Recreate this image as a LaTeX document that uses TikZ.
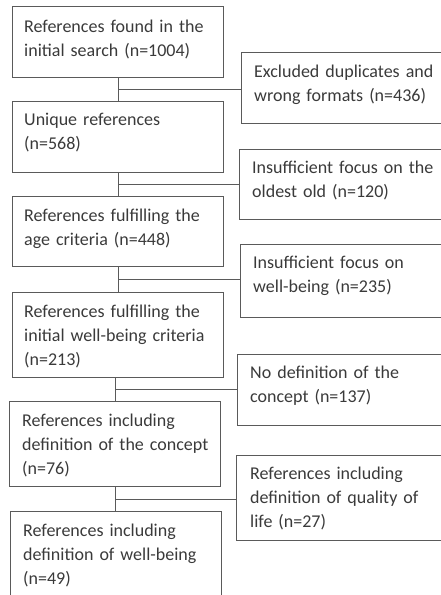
\documentclass[tikz,border=0pt]{standalone}
\usepackage{fontspec}
\setmainfont{Carlito}
\usetikzlibrary{calc}
\definecolor{bordergray}{HTML}{5A5A5A}
\definecolor{textgray}{HTML}{3A3A3A}
\begin{document}
\begin{tikzpicture}[x=1pt,y=-1pt,
  box/.style={draw=bordergray, line width=1.3pt, inner sep=0pt, anchor=north west},
  lbl/.style={anchor=base west, inner sep=0pt, text width=200pt, align=left,
    font=\fontsize{18}{24}\selectfont, text=textgray},
  link/.style={draw=bordergray, line width=1.3pt}]
\useasboundingbox (0,0) rectangle (441,595);
\clip (0,0) rectangle (441,595);
% left column
\node[box, minimum width=211pt, minimum height=71pt] (a) at (12,6) {};
\node[box, minimum width=211pt, minimum height=71pt] (b) at (12,101) {};
\node[box, minimum width=211pt, minimum height=70pt] (c) at (12,196) {};
\node[box, minimum width=211pt, minimum height=85pt] (d) at (12,292) {};
\node[box, minimum width=211pt, minimum height=85pt] (e) at (9,401) {};
\node[box, minimum width=211pt, minimum height=110pt] (f) at (10,511) {};
% right column
\node[box, minimum width=230pt, minimum height=71pt] (r1) at (241,52) {};
\node[box, minimum width=230pt, minimum height=70pt] (r2) at (239,149) {};
\node[box, minimum width=230pt, minimum height=73pt] (r3) at (240,244) {};
\node[box, minimum width=230pt, minimum height=71pt] (r4) at (237,354) {};
\node[box, minimum width=230pt, minimum height=85pt] (r5) at (236,455) {};
% texts
\node[lbl] (ta) at ([shift={(12,26)}]a.north west) {References found in the\\initial search (n=1004)};
\node[lbl] (tb) at ([shift={(12,24)}]b.north west) {Unique references\\(n=568)};
\node[lbl] (tc) at ([shift={(12,25)}]c.north west) {References fulfilling the\\age criteria (n=448)};
\node[lbl] (td) at ([shift={(12,25)}]d.north west) {References fulfilling the\\initial well-being criteria\\(n=213)};
\node[lbl] (te) at ([shift={(13,25)}]e.north west) {References including\\definition of the concept\\(n=76)};
\node[lbl] (tf) at ([shift={(13,25)}]f.north west) {References including\\definition of well-being\\(n=49)};
\node[lbl] (tr1) at ([shift={(13,25)}]r1.north west) {Excluded duplicates and\\wrong formats (n=436)};
\node[lbl] (tr2) at ([shift={(13,24)}]r2.north west) {Insufficient focus on the\\oldest old (n=120)};
\node[lbl] (tr3) at ([shift={(13,24)}]r3.north west) {Insufficient focus on\\well-being (n=235)};
\node[lbl] (tr4) at ([shift={(13,24)}]r4.north west) {No definition of the\\concept (n=137)};
\node[lbl] (tr5) at ([shift={(14,24)}]r5.north west) {References including\\definition of quality of\\life (n=27)};
% connectors
\draw[link] (a.south) -- (b.north);
\draw[link] ($(a.south)!.5!(b.north)$) coordinate (j1) -- (j1 -| r1.west);
\draw[link] (b.south) -- (c.north);
\draw[link] ($(b.south)!.5!(c.north)$) coordinate (j2) -- (j2 -| r2.west);
\draw[link] (c.south) -- (c.south |- d.north);
\draw[link] ($(c.south)!.5!(c.south |- d.north)$) coordinate (j3) -- (j3 -| r3.west);
\draw[link] (e.north |- d.south) -- (e.north);
\draw[link] ($(e.north |- d.south)!.5!(e.north)$) coordinate (j4) -- (j4 -| r4.west);
\draw[link] (e.south) -- (e.south |- f.north);
\draw[link] ($(e.south)!.5!(e.south |- f.north)$) coordinate (j5) -- (j5 -| r5.west);
\end{tikzpicture}
\end{document}
